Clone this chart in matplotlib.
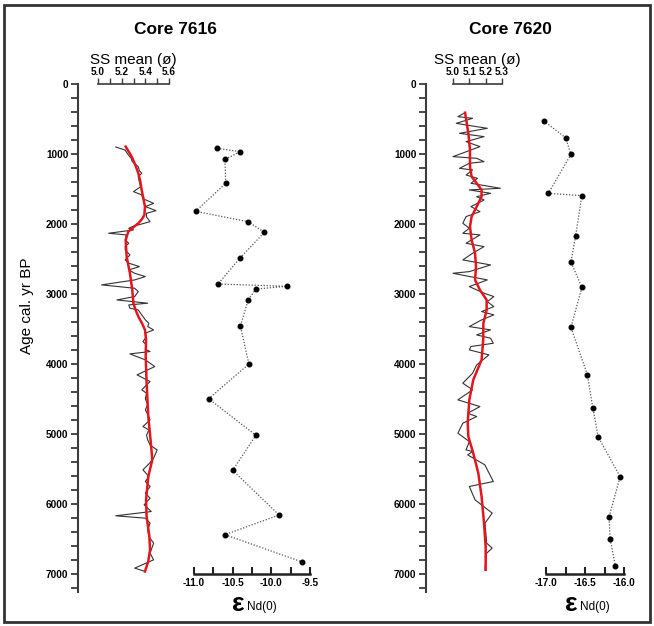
import numpy as np
import matplotlib
matplotlib.use("Agg")
import matplotlib.pyplot as plt
from matplotlib.patches import Rectangle
from matplotlib.ticker import MultipleLocator, FormatStrFormatter

plt.rcParams['font.family'] = ['Liberation Sans', 'DejaVu Sans']

# Core 7616 - sortable silt mean (grey raw, red smoothed)
ss_age_7616 = [900, 945, 1000, 1062, 1110, 1181, 1240, 1276, 1324, 1400, 1470, 1514, 1538, 1586,
               1640, 1705, 1752, 1810, 1848, 1900, 1967, 2000, 2038, 2062, 2086, 2133, 2157, 2229,
               2276, 2320, 2371, 2443, 2514, 2560, 2610, 2657, 2705, 2752, 2800, 2871, 2919, 2967,
               3038, 3086, 3133, 3157, 3205, 3229, 3300, 3371, 3419, 3467, 3514, 3562, 3610, 3681,
               3729, 3790, 3824, 3857, 3943, 4038, 4157, 4252, 4371, 4419, 4500, 4580, 4657, 4720,
               4800, 4895, 4943, 5020, 5086, 5160, 5229, 5348, 5430, 5514, 5610, 5681, 5752, 5848,
               5919, 6014, 6110, 6171, 6205, 6276, 6370, 6467, 6562, 6705, 6800, 6919, 6967]
ss_val_7616 = [5.15, 5.23, 5.25, 5.28, 5.29, 5.34, 5.35, 5.37, 5.34, 5.35, 5.36, 5.32, 5.30, 5.37,
               5.38, 5.47, 5.40, 5.49, 5.41, 5.41, 5.44, 5.37, 5.29, 5.26, 5.30, 5.09, 5.24, 5.23,
               5.26, 5.23, 5.23, 5.27, 5.23, 5.26, 5.35, 5.26, 5.31, 5.40, 5.31, 5.03, 5.31, 5.34,
               5.31, 5.16, 5.42, 5.26, 5.27, 5.34, 5.37, 5.40, 5.43, 5.42, 5.47, 5.40, 5.41, 5.38,
               5.41, 5.40, 5.44, 5.27, 5.40, 5.48, 5.33, 5.44, 5.37, 5.41, 5.40, 5.42, 5.40, 5.42,
               5.44, 5.38, 5.43, 5.41, 5.42, 5.44, 5.50, 5.47, 5.43, 5.38, 5.43, 5.40, 5.44, 5.40,
               5.44, 5.39, 5.45, 5.15, 5.40, 5.44, 5.42, 5.43, 5.47, 5.44, 5.47, 5.31, 5.40]
smooth_age_7616 = [895, 1038, 1160, 1276, 1400, 1514, 1640, 1752, 1871, 1930, 1990, 2050, 2110,
                   2229, 2467, 2705, 2943, 3133, 3230, 3324, 3420, 3514, 3657, 3895, 4276, 4752,
                   5100, 5371, 5610, 5943, 6181, 6467, 6657, 6820, 6967]
smooth_val_7616 = [5.234, 5.285, 5.316, 5.341, 5.358, 5.369, 5.384, 5.397, 5.392, 5.372, 5.341,
                   5.297, 5.256, 5.234, 5.242, 5.270, 5.290, 5.299, 5.318, 5.341, 5.372, 5.397,
                   5.406, 5.403, 5.411, 5.425, 5.445, 5.459, 5.425, 5.406, 5.411, 5.434, 5.440,
                   5.425, 5.397]

# Core 7616 - epsilon Nd
nd_age_7616 = [919, 967, 1076, 1419, 1819, 1967, 2119, 2481, 2857, 2890, 2929, 3086, 3457, 4000,
               4496, 5019, 5519, 6157, 6438, 6829]
nd_val_7616 = [-10.70, -10.40, -10.60, -10.59, -10.98, -10.30, -10.09, -10.40, -10.69, -9.80,
               -10.20, -10.30, -10.40, -10.29, -10.81, -10.20, -10.50, -9.90, -10.60, -9.60]

# Core 7620 - sortable silt mean
ss_age_7620 = [410, 467, 490, 562, 610, 633, 705, 752, 824, 895, 1038, 1062, 1110, 1133, 1205,
               1229, 1300, 1348, 1419, 1490, 1514, 1562, 1610, 1657, 1752, 1824, 1895, 1990, 2062,
               2133, 2157, 2276, 2324, 2419, 2514, 2586, 2681, 2705, 2800, 2895, 2990, 3038, 3110,
               3181, 3252, 3300, 3371, 3467, 3514, 3586, 3633, 3705, 3752, 3800, 3871, 4014, 4133,
               4276, 4371, 4514, 4610, 4705, 4752, 4848, 4990, 5110, 5229, 5252, 5300, 5443, 5681,
               5752, 5943, 6133, 6276, 6562, 6633, 6705, 6943]
ss_val_7620 = [5.074, 5.03, 5.12, 5.02, 5.145, 5.21, 5.04, 5.19, 5.08, 5.165, 5.00, 5.145, 5.19,
               5.10, 5.04, 5.12, 5.08, 5.15, 5.11, 5.29, 5.10, 5.23, 5.145, 5.19, 5.11, 5.165,
               5.08, 5.06, 5.10, 5.06, 5.165, 5.08, 5.19, 5.12, 5.06, 5.23, 5.10, 5.00, 5.21,
               5.10, 5.19, 5.25, 5.21, 5.25, 5.175, 5.25, 5.175, 5.10, 5.23, 5.145, 5.23, 5.247,
               5.11, 5.10, 5.22, 5.145, 5.12, 5.06, 5.12, 5.03, 5.165, 5.09, 5.145, 5.06, 5.03,
               5.10, 5.08, 5.12, 5.09, 5.195, 5.247, 5.10, 5.135, 5.24, 5.196, 5.206, 5.24, 5.206,
               5.196]
smooth_age_7620 = [410, 705, 943, 1181, 1324, 1419, 1514, 1610, 1752, 1895, 2038, 2229, 2419,
                   2610, 2800, 2943, 3086, 3229, 3419, 3657, 3943, 4229, 4514, 4848, 5038, 5276,
                   5562, 5895, 6276, 6610, 6943]
smooth_val_7620 = [5.074, 5.094, 5.104, 5.104, 5.114, 5.145, 5.175, 5.175, 5.145, 5.114, 5.104,
                   5.114, 5.135, 5.141, 5.135, 5.165, 5.206, 5.206, 5.186, 5.185, 5.175, 5.124,
                   5.100, 5.090, 5.094, 5.124, 5.155, 5.175, 5.190, 5.200, 5.200]

# Core 7620 - epsilon Nd
nd_age_7620 = [524, 767, 1005, 1562, 1595, 2167, 2543, 2905, 3476, 4152, 4624, 5043, 5610, 6181,
               6495, 6881]
nd_val_7620 = [-17.03, -16.75, -16.68, -16.97, -16.54, -16.62, -16.68, -16.54, -16.68, -16.47,
               -16.40, -16.33, -16.05, -16.19, -16.18, -16.11]

W, H = 654, 626
fig = plt.figure(figsize=(W / 100, H / 100), dpi=100)


def px_axes(x0, y0, x1, y1):
    ax = fig.add_axes([x0 / W, 1 - y1 / H, (x1 - x0) / W, (y1 - y0) / H])
    ax.patch.set_alpha(0)
    for s in ax.spines.values():
        s.set_visible(False)
    return ax


spine_col = '#3c3c3c'
TICK_FS = 7.2


def draw_core(ax_x, ss_x0, ss_x1, ss_lim, ss_major, ss_minor, nd_x0, nd_x1, nd_lim,
              ss_age, ss_val, sm_age, sm_val, nd_age, nd_val, title, title_x):
    # age axis
    base = px_axes(ax_x, 84, ax_x + 10, 592)
    base.set_ylim(7260, 0)
    base.set_xticks([])
    base.spines['left'].set_visible(True)
    base.spines['left'].set_linewidth(1.5)
    base.spines['left'].set_color(spine_col)
    base.set_yticks(np.arange(0, 7001, 1000))
    base.yaxis.set_minor_locator(MultipleLocator(200))
    base.tick_params(axis='y', which='both', direction='out', length=5, width=1.3,
                     color=spine_col, pad=2)
    for lab in base.get_yticklabels():
        lab.set_fontsize(TICK_FS)
        lab.set_fontweight('bold')

    # sortable silt axis (top)
    ss = px_axes(ss_x0, 84, ss_x1, 592)
    ss.set_ylim(7260, 0)
    ss.set_xlim(*ss_lim)
    ss.set_yticks([])
    ss.spines['top'].set_visible(True)
    ss.spines['top'].set_linewidth(1.2)
    ss.spines['top'].set_color(spine_col)
    ss.xaxis.tick_top()
    ss.xaxis.set_label_position('top')
    ss.xaxis.set_major_locator(MultipleLocator(ss_major))
    if ss_minor:
        ss.xaxis.set_minor_locator(MultipleLocator(ss_minor))
    ss.tick_params(axis='x', which='both', direction='out', length=4, width=1.0,
                   color=spine_col, pad=1)
    ss.xaxis.set_major_formatter(FormatStrFormatter('%.1f'))
    for lab in ss.get_xticklabels():
        lab.set_fontsize(TICK_FS)
        lab.set_fontweight('bold')
    ss.set_xlabel('SS mean (ø)', fontsize=11, labelpad=2)
    ss.plot(ss_val, ss_age, color='#333333', lw=0.8, clip_on=False)
    ss.plot(sm_val, sm_age, color='#e3161e', lw=1.8, clip_on=False, solid_joinstyle='round')

    # epsilon Nd axis (bottom, at 7000)
    nd = px_axes(nd_x0, 84, nd_x1, 574)
    nd.set_ylim(7000, 0)
    nd.set_xlim(*nd_lim)
    nd.set_yticks([])
    nd.spines['bottom'].set_visible(True)
    nd.spines['bottom'].set_linewidth(1.8)
    nd.spines['bottom'].set_color('#222222')
    nd.xaxis.set_major_locator(MultipleLocator(0.5))
    nd.xaxis.set_minor_locator(MultipleLocator(0.25))
    nd.xaxis.set_major_formatter(FormatStrFormatter('%.1f'))
    nd.tick_params(axis='x', which='both', direction='in', length=5, width=1.5,
                   color='#222222', pad=3)
    for lab in nd.get_xticklabels():
        lab.set_fontsize(TICK_FS)
        lab.set_fontweight('bold')
    nd.plot(nd_val, nd_age, color='#555555', lw=0.9, ls=(0, (1, 1.4)), clip_on=False)
    nd.plot(nd_val, nd_age, 'o', color='black', ms=3.3, clip_on=False)

    cx = (nd_x0 + nd_x1) / 2
    fig.text((cx - 14) / W, 1 - 611 / H, 'ε', fontsize=19, fontweight='bold',
             ha='center', va='baseline')
    fig.text((cx - 5) / W, 1 - 610 / H, 'Nd(0)', fontsize=8.5, ha='left', va='baseline')

    fig.text(title_x / W, 1 - 30 / H, title, fontsize=12.5, fontweight='bold',
             ha='center', va='center')


draw_core(78, 98, 169, (5.0, 5.6), 0.2, 0.1, 194, 310, (-11.0, -9.5),
          ss_age_7616, ss_val_7616, smooth_age_7616, smooth_val_7616,
          nd_age_7616, nd_val_7616, 'Core 7616', 175)
draw_core(426, 453, 502, (5.0, 5.3), 0.1, None, 546, 624, (-17.0, -16.0),
          ss_age_7620, ss_val_7620, smooth_age_7620, smooth_val_7620,
          nd_age_7620, nd_val_7620, 'Core 7620', 510)

fig.text(27 / W, 1 - 306 / H, 'Age cal. yr BP', fontsize=11, rotation=90,
         ha='center', va='center')

# frame around the whole figure
fig.patches.append(Rectangle((4 / W, 1 - 622 / H), 646 / W, 617 / H, transform=fig.transFigure,
                             fill=False, lw=2, edgecolor='#333333'))

fig.savefig('out.png', dpi=100)
